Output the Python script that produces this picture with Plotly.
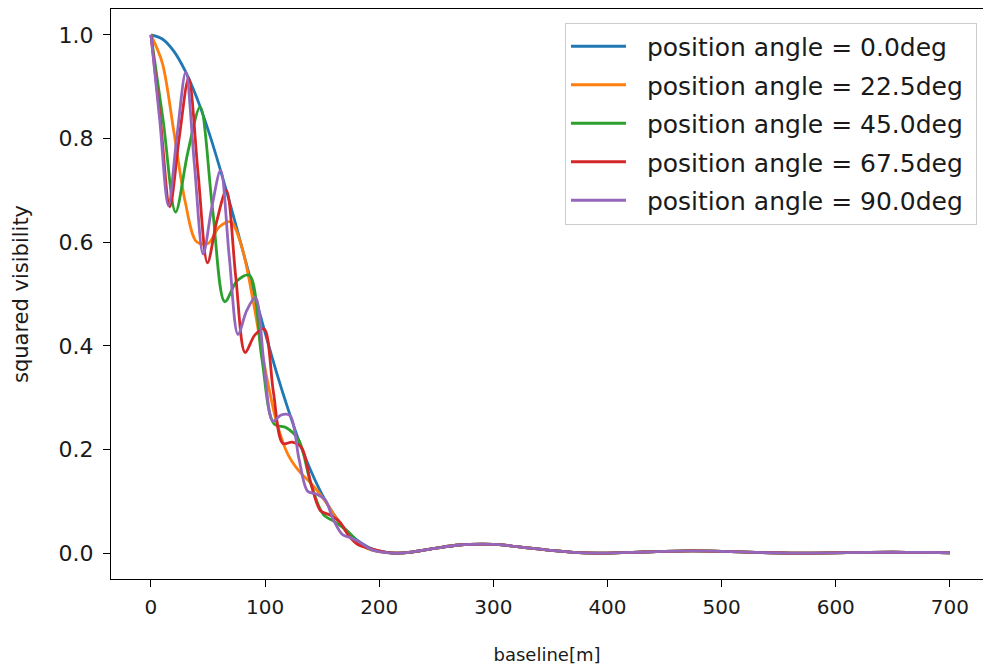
import plotly.graph_objects as go

# ---- data ----
ANGLES = ["0.0", "22.5", "45.0", "67.5", "90.0"]
COLORS = ["#1f77b4", "#ff7f0e", "#2ca02c", "#d62728", "#9467bd"]

# blue: position angle 0.0 deg
X_0 = [0, 10, 20, 30, 40, 50, 60, 70, 80, 90, 100, 110, 120, 130, 140, 150, 160, 170, 180, 190, 200, 210]
V_0 = [1.0, 0.9921, 0.9687, 0.9306, 0.8795, 0.8172, 0.7460, 0.6686, 0.5876, 0.5057, 0.4253,
       0.3489, 0.2787, 0.2146, 0.1595, 0.1130, 0.0756, 0.0468, 0.0259, 0.0119, 0.0038, 0.0004]

# orange: 22.5 deg
X_22 = [0, 10, 20, 30, 40, 50, 60, 70, 80, 90, 100, 110, 120, 130, 140, 150, 160, 170, 180, 190, 200, 210]
V_22 = [1.0, 0.9457, 0.8143, 0.6779, 0.6007, 0.5975, 0.6298, 0.6391, 0.5876, 0.4807, 0.3559,
        0.2532, 0.1904, 0.1575, 0.1353, 0.1083, 0.0756, 0.0444, 0.0216, 0.0086, 0.0026, 0.0003]

# green: 45.0 deg
X_45 = [0, 10.78, 21.57, 32.35, 43.13, 53.92, 64.70, 75.48, 86.27, 97.05, 107.83, 118.62,
        129.40, 140.19, 150.97, 161.75, 172.54, 183.32, 194.10, 204.89]
V_45 = [1.0, 0.8337, 0.6582, 0.7739, 0.8611, 0.6649, 0.4851, 0.5255, 0.5362, 0.3776, 0.2493,
        0.2420, 0.2185, 0.1333, 0.0747, 0.0593, 0.0415, 0.0179, 0.0059, 0.0018]

# red: 67.5 deg
X_67 = [0, 8.25, 16.51, 24.76, 33.01, 41.27, 49.52, 57.77, 66.03, 74.28, 82.53, 90.79, 99.04,
        107.29, 115.55, 123.80, 132.06, 140.31, 148.57, 156.82, 165.08, 173.33, 181.58, 189.84,
        198.09, 206.35]
V_67 = [1.0, 0.8370, 0.6684, 0.8014, 0.9165, 0.7339, 0.5603, 0.6416, 0.6999, 0.5337, 0.3871,
        0.4201, 0.4329, 0.3107, 0.2117, 0.2140, 0.2032, 0.1330, 0.0818, 0.0736, 0.0610, 0.0335,
        0.0162, 0.0102, 0.0053, 0.0013]

# purple: 90.0 deg
X_90 = [0, 7.625, 15.25, 22.875, 30.5, 38.125, 45.75, 53.375, 61.0, 68.625, 76.25, 83.875,
        91.5, 99.125, 106.75, 114.375, 122.0, 129.625, 137.25, 144.875, 152.5, 160.125,
        167.75, 175.375, 183.0, 190.625, 198.25, 205.875]
V_90 = [1.0, 0.8376, 0.6705, 0.8071, 0.9284, 0.7489, 0.5771, 0.6682, 0.7385, 0.5718, 0.4222,
        0.4677, 0.4934, 0.3637, 0.2549, 0.2669, 0.2649, 0.1826, 0.1192, 0.1142, 0.1030, 0.0633,
        0.0359, 0.0291, 0.0210, 0.0095, 0.0033, 0.0011]

# long-baseline tail, where all five curves coincide
TAIL_X = [215, 230, 250, 270, 290, 300, 310, 330, 350, 370, 390, 400, 420, 450, 475, 500,
          530, 560, 580, 610, 650, 680, 700]
TAIL_V = [0.0, 0.0025, 0.0096, 0.0156, 0.0174, 0.0168, 0.0152, 0.0102, 0.0051, 0.0015, 0.0,
          0.0001, 0.0012, 0.0035, 0.0041, 0.0033, 0.0013, 0.0001, 0.0001, 0.0008, 0.0016,
          0.0012, 0.0007]

SERIES = [(X_0, V_0), (X_22, V_22), (X_45, V_45), (X_67, V_67), (X_90, V_90)]

X_TICKS = [0, 100, 200, 300, 400, 500, 600, 700]
Y_TICKS = [0.0, 0.2, 0.4, 0.6, 0.8, 1.0]

FONT = "DejaVu Sans"
TXT = "#1a1a1a"
NB = "\u00a0"

fig = go.Figure()
for i, ((xs, vs), ang, col) in enumerate(zip(SERIES, ANGLES, COLORS)):
    fig.add_trace(go.Scatter(
        x=list(xs) + TAIL_X, y=list(vs) + TAIL_V,
        mode="lines", line=dict(color=col, width=2.8, shape="spline", smoothing=0.9),
        name=NB * 2 + f"position angle = {ang}deg" + NB, legendgroup=f"g{i}",
    ))

fig.update_layout(
    width=983, height=670,
    margin=dict(l=111, r=0, t=9, b=91),
    paper_bgcolor="white", plot_bgcolor="white",
    font=dict(family=FONT, color=TXT),
    showlegend=True,
    legend=dict(
        x=0.9931, y=0.9763, xanchor="right", yanchor="top",
        bgcolor="white", bordercolor="#cccccc", borderwidth=1,
        font=dict(family=FONT, size=25, color=TXT),
        tracegroupgap=3, traceorder="grouped",
        itemwidth=55,
    ),
)
fig.update_xaxes(
    range=[-35, 729], tickvals=X_TICKS, ticktext=[str(v) for v in X_TICKS],
    showgrid=False, zeroline=False,
    showline=True, linecolor="black", linewidth=1.3, mirror=True,
    ticks="outside", ticklen=7, tickwidth=1.3, tickcolor="black",
    tickfont=dict(family=FONT, size=20, color=TXT),
    ticklabelstandoff=3,
    title=dict(text="baseline[m]", font=dict(family=FONT, size=18, color=TXT), standoff=30),
    automargin=False,
)
fig.update_yaxes(
    range=[-0.05, 1.05], tickvals=Y_TICKS, ticktext=[f"{v:.1f}" for v in Y_TICKS],
    showgrid=False, zeroline=False,
    showline=True, linecolor="black", linewidth=1.3, mirror=False,
    ticks="outside", ticklen=7, tickwidth=1.3, tickcolor="black",
    tickfont=dict(family=FONT, size=22, color=TXT),
    ticklabelstandoff=5,
    title=dict(text="squared visibility", font=dict(family=FONT, size=21, color=TXT), standoff=24),
    automargin=False,
)

fig.write_html("out.html")
